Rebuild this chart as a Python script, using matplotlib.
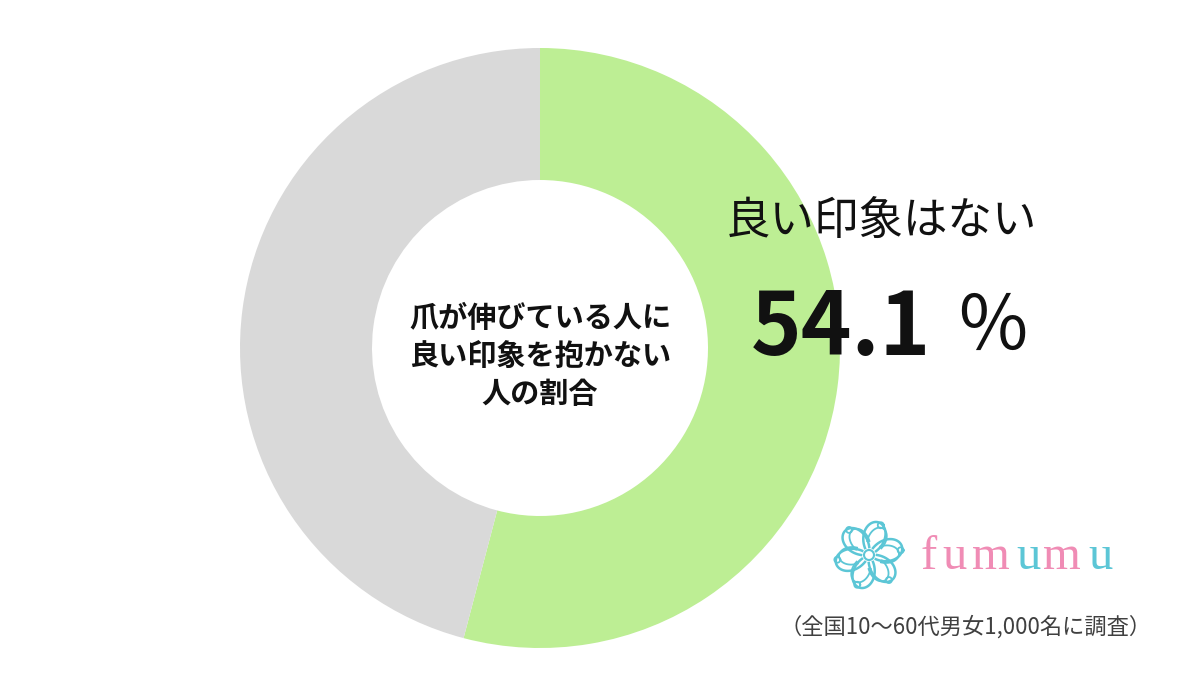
import numpy as np
import matplotlib.pyplot as plt
from matplotlib.patches import Wedge

plt.rcParams['font.family'] = ['Noto Sans CJK JP', 'DejaVu Sans']

# data
labels = ["良い印象はない", "その他"]
values = [54.1, 45.9]
colors = ["#bdee94", "#d9d9d9"]
center_title = "爪が伸びている人に\n良い印象を抱かない\n人の割合"
note = "（全国10～60代男女1,000名に調査）"
logo_letters = list("fumumu")
logo_colors = ["#f08cb5", "#f08cb5", "#f08cb5", "#5cc6d6", "#f08cb5", "#5cc6d6"]

W, H = 1200, 678
fig = plt.figure(figsize=(W / 100, H / 100), dpi=100)
ax = fig.add_axes([0, 0, 1, 1])
ax.set_xlim(0, W)
ax.set_ylim(H, 0)
ax.axis("off")

# donut, starts at 12 o'clock and runs clockwise
cx, cy = 540, 348
r_out, r_in = 300, 168
start = 90.0
for v, c in zip(values, colors):
    span = 360.0 * v / sum(values)
    # y axis is inverted, so angles go clockwise on screen
    ax.add_patch(Wedge((cx, cy), r_out, -start, -start + span,
                       width=r_out - r_in, facecolor=c, edgecolor="none"))
    start -= span

ax.text(cx, 356, center_title, ha="center", va="center", fontsize=21,
        fontweight="bold", linespacing=1.35, color="#111111")

# callout
ax.text(881, 221, labels[0], ha="center", va="center", fontsize=32, color="#111111")
ax.text(841, 330, f"{values[0]:.1f}", ha="center", va="center", fontsize=62,
        fontweight="bold", color="#111111")
ax.text(993, 328, "％", ha="center", va="center", fontsize=54, color="#111111")

# logo mark: a loose ring of looped strokes
lx, ly = 869, 555
t = np.linspace(0, 2 * np.pi, 200)
for k in range(6):
    a = k * np.pi / 3
    s = np.linspace(0, 1, 80)
    ang = a + s * 1.6
    rr = 8 + 26 * np.sin(np.pi * s)
    ax.plot(lx + rr * np.cos(ang), ly + rr * np.sin(ang), color="#5cc6d6", lw=1.8)
    ang2 = a + 0.4 + s * 1.2
    rr2 = 14 + 16 * np.sin(np.pi * s)
    ax.plot(lx + rr2 * np.cos(ang2), ly + rr2 * np.sin(ang2), color="#5cc6d6", lw=1.3)
    ax.plot(lx + 32 * np.cos(a + 0.9) + 3 * np.cos(t), ly + 32 * np.sin(a + 0.9) + 3 * np.sin(t),
            color="#5cc6d6", lw=1.3)
ax.plot(lx + 5 * np.cos(t), ly + 5 * np.sin(t), color="#5cc6d6", lw=1.5)

letter_x = [929, 954, 991, 1028, 1062, 1100]
for ch, c, x in zip(logo_letters, logo_colors, letter_x):
    ax.text(x, 557, ch, ha="center", va="center", fontsize=35,
            family="Liberation Serif", color=c)

ax.text(1152, 627, note, ha="right", va="center", fontsize=16, color="#404040")

fig.savefig("out.png", dpi=100, facecolor="white")
